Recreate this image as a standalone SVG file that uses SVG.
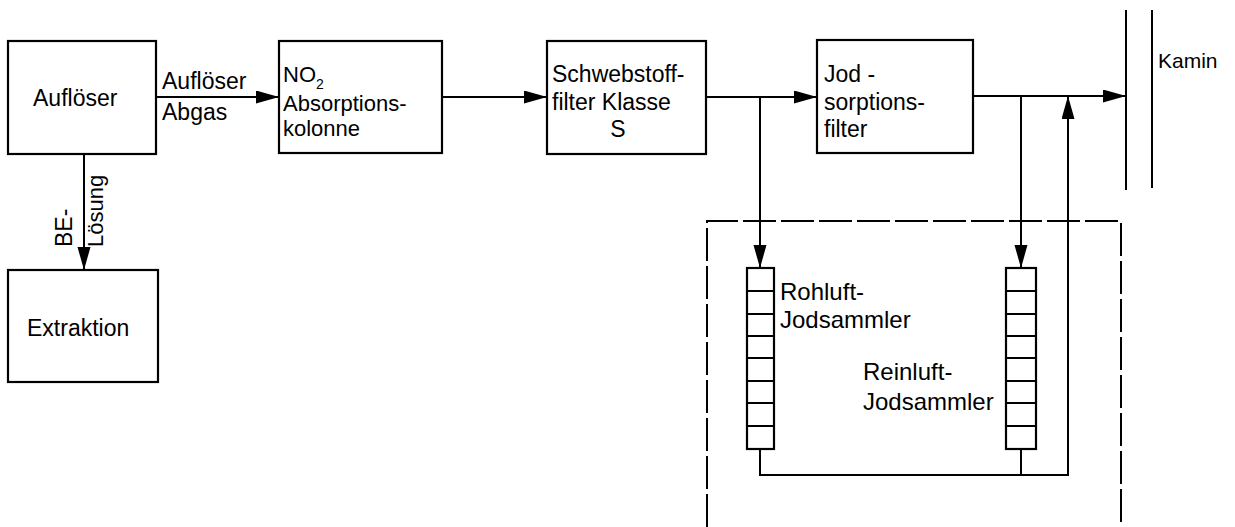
<svg xmlns="http://www.w3.org/2000/svg" width="1235" height="527" viewBox="0 0 1235 527">
<style>
.box{fill:#fff;stroke:#000;stroke-width:2.2}
.ln{fill:none;stroke:#000;stroke-width:2}
.t{font-family:"Liberation Sans",Arial,sans-serif;font-size:23px;fill:#000}
.s{font-size:24px}
.dash{fill:none;stroke:#000;stroke-width:2;stroke-dasharray:33 5}
</style>
<defs>
<marker id="ah" markerUnits="userSpaceOnUse" markerWidth="24" markerHeight="14" refX="23" refY="6.5" orient="auto">
<path d="M0,0 L23,6.5 L0,13 z" fill="#000"/>
</marker>
</defs>
<rect width="1235" height="527" fill="#fff"/>
<g id="connectors">
<line class="ln" x1="156" y1="97" x2="279" y2="97" marker-end="url(#ah)"/>
<line class="ln" x1="442" y1="97" x2="547" y2="97" marker-end="url(#ah)"/>
<line class="ln" x1="706" y1="97" x2="817" y2="97" marker-end="url(#ah)"/>
<line class="ln" x1="973" y1="96" x2="1126" y2="96" marker-end="url(#ah)"/>
<line class="ln" x1="760" y1="97" x2="760" y2="268" marker-end="url(#ah)"/>
<line class="ln" x1="1021" y1="96" x2="1021" y2="268" marker-end="url(#ah)"/>
<line class="ln" x1="84" y1="154" x2="84" y2="270" marker-end="url(#ah)"/>
<path class="ln" d="M760,449 V475 H1068 V96" marker-end="url(#ah)"/>
<line class="ln" x1="1021" y1="449" x2="1021" y2="475"/>
</g>
<g id="group-box"><path class="dash" d="M707,527 V221 H1121 V527"/></g>
<g id="kamin">
<line class="ln" x1="1126" y1="10" x2="1126" y2="190"/>
<line class="ln" x1="1152" y1="10" x2="1152" y2="188"/>
<text class="t" x="1158" y="68" style="font-size:21px">Kamin</text>
</g>
<g id="aufloeser">
<rect class="box" x="8" y="41" width="148" height="113"/>
<text class="t" x="33" y="106">Auflöser</text>
</g>
<g id="label-abgas">
<text class="t" x="162" y="89">Auflöser</text>
<text class="t" x="162" y="120">Abgas</text>
</g>
<g id="label-be">
<text class="t" transform="translate(72,247) rotate(-90)">BE-</text>
<text class="t" transform="translate(103,247) rotate(-90)" style="font-size:22px">Lösung</text>
</g>
<g id="extraktion">
<rect class="box" x="8" y="270" width="150" height="112"/>
<text class="t" x="27" y="336">Extraktion</text>
</g>
<g id="no2">
<rect class="box" x="279" y="41" width="163" height="112"/>
<text class="t" x="283" y="82" style="font-size:22px">NO<tspan dy="7" style="font-size:14px">2</tspan></text>
<text class="t" x="283" y="111" style="font-size:22px">Absorptions-</text>
<text class="t" x="283" y="136" style="font-size:22px">kolonne</text>
</g>
<g id="schwebstoff">
<rect class="box" x="547" y="41" width="159" height="113"/>
<text class="t" x="552" y="82">Schwebstoff-</text>
<text class="t" x="552" y="110">filter  Klasse</text>
<text class="t" x="618" y="137" text-anchor="middle">S</text>
</g>
<g id="jod">
<rect class="box" x="817" y="40" width="156" height="113"/>
<text class="t" x="824" y="82" xml:space="preserve">Jod -</text>
<text class="t" x="824" y="110">sorptions-</text>
<text class="t" x="824" y="137">filter</text>
</g>
<g id="rohluft">
<rect class="box" x="747" y="268" width="27" height="181"/>
<path class="ln" d="M747,291 H774 M747,314 H774 M747,336 H774 M747,358 H774 M747,381 H774 M747,403 H774 M747,426 H774"/>
<text class="t s" x="780" y="300">Rohluft-</text>
<text class="t s" x="780" y="328">Jodsammler</text>
</g>
<g id="reinluft">
<rect class="box" x="1006" y="268" width="30" height="181"/>
<path class="ln" d="M1006,291 H1036 M1006,314 H1036 M1006,336 H1036 M1006,358 H1036 M1006,381 H1036 M1006,403 H1036 M1006,426 H1036"/>
<text class="t s" x="863" y="380">Reinluft-</text>
<text class="t s" x="863" y="410">Jodsammler</text>
</g>
</svg>
